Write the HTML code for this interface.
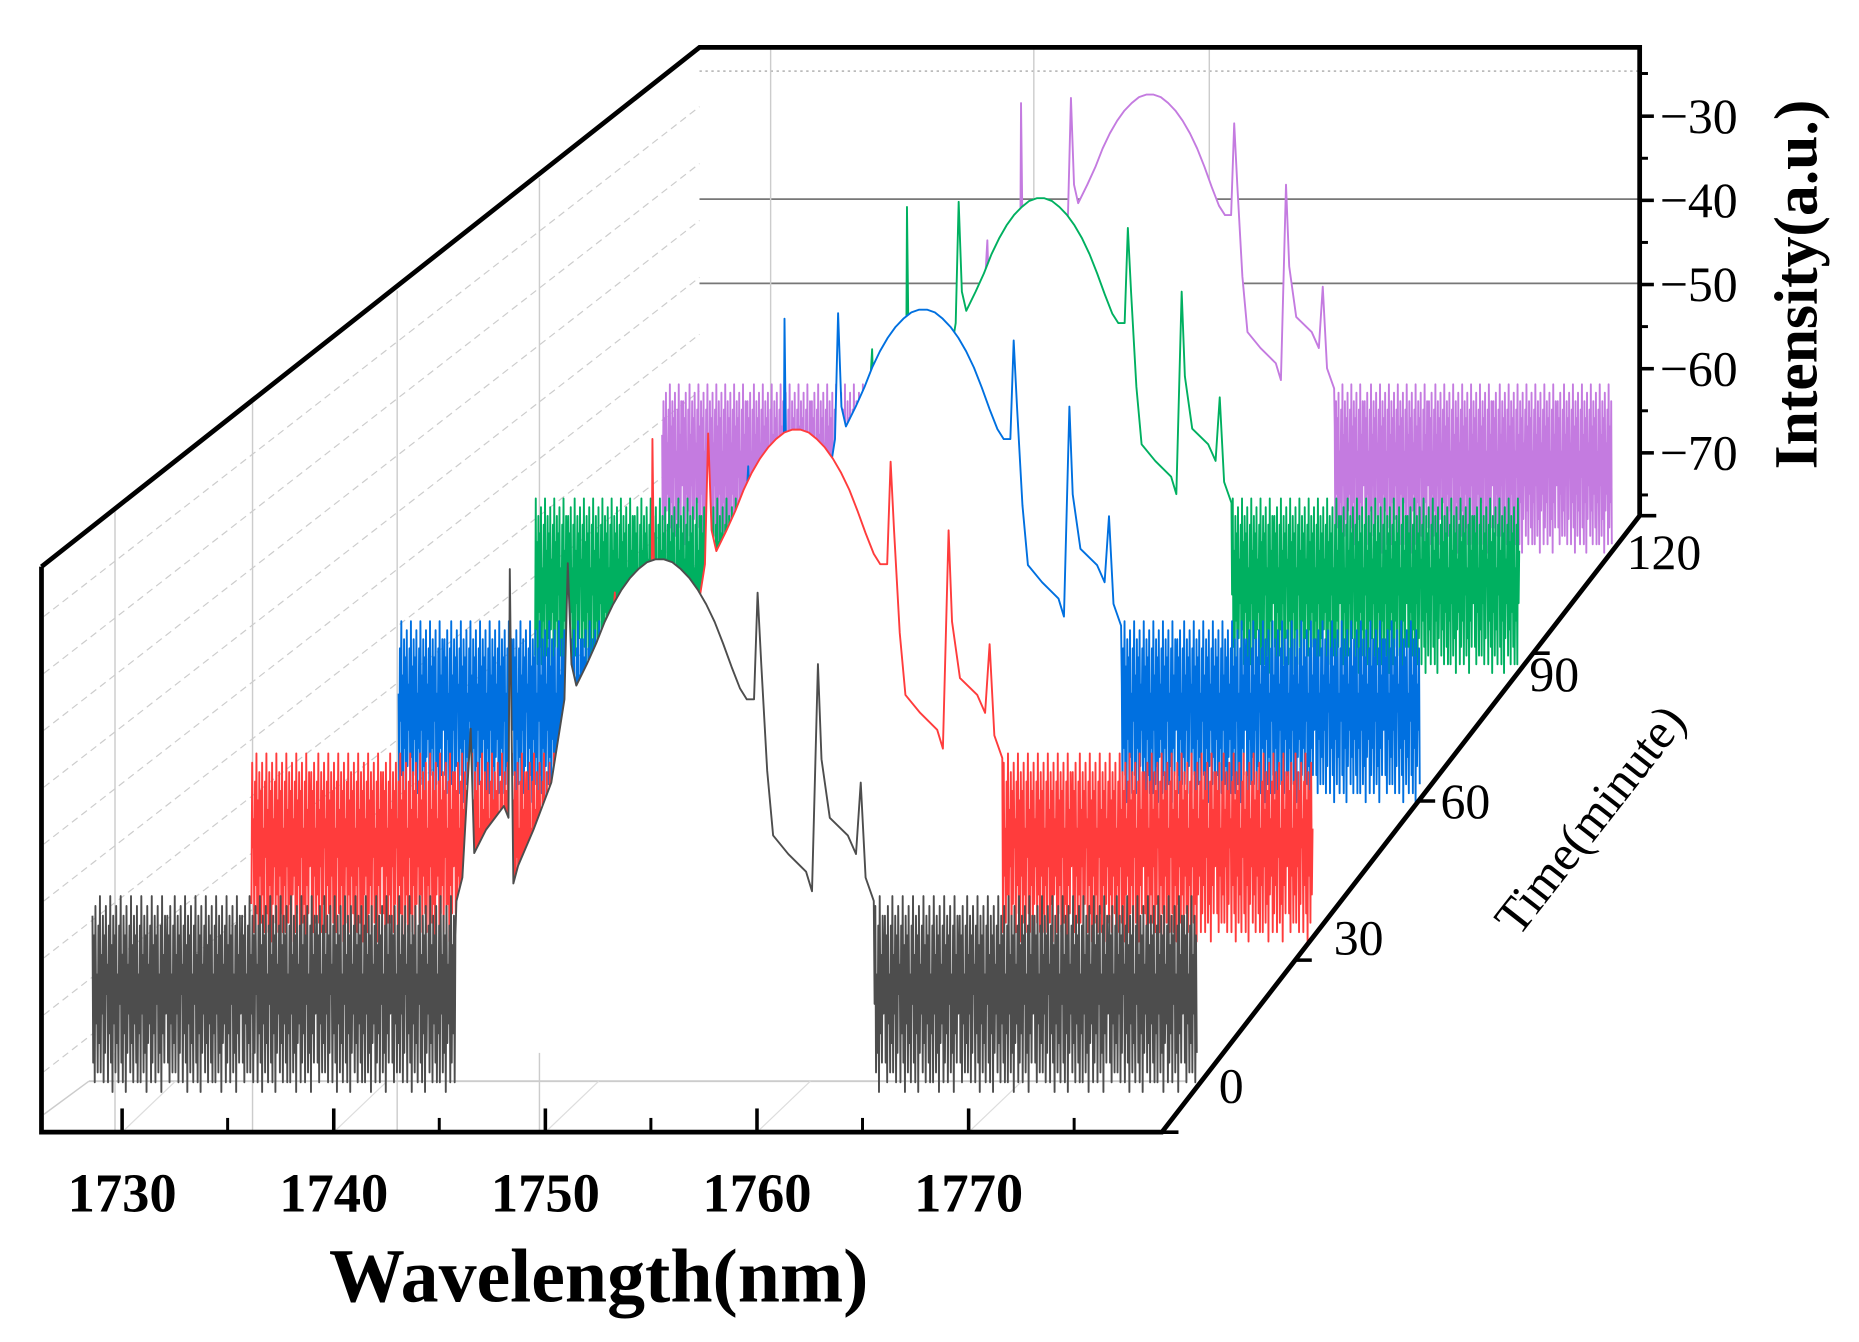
<!DOCTYPE html>
<html><head><meta charset="utf-8"><style>
html,body{margin:0;padding:0;background:#fff;}
svg{display:block;}
text{font-family:"Liberation Serif",serif;}
</style></head><body>
<svg id="chart" width="1859" height="1342" viewBox="0 0 1568 1132" preserveAspectRatio="none" xmlns="http://www.w3.org/2000/svg">
<g id="grid"></g>
<g id="series"></g>
<g id="frame"></g>
<g id="labels"></g>
</svg>
<script>
const times = [0, 30, 60, 90, 120];
const seriesColors = ["#4d4d4d", "#ff3c3c", "#0070e0", "#00b060", "#c47be0"];
const seriesNames = ["spectrum-0min", "spectrum-30min", "spectrum-60min", "spectrum-90min", "spectrum-120min"];
const wlTicks = [1730, 1740, 1750, 1760, 1770];
const intTicks = [-30, -40, -50, -60, -70];
const timeTicks = [0, 30, 60, 90, 120];
const shapeWl = [1745.80,1746.08,1746.47,1746.64,1747.20,1748.04,1748.26,1748.32,1748.49,1748.71,1749.44,1750.28,1750.90,1751.06,1751.23,1751.46,1751.96,1752.4,1752.8,1753.2,1753.6,1754.0,1754.4,1754.8,1755.2,1755.6,1756.0,1756.4,1756.8,1757.2,1757.6,1758.0,1758.4,1758.8,1759.2,1759.52,1759.86,1760.03,1760.20,1760.48,1760.76,1761.48,1762.32,1762.60,1762.88,1763.05,1763.44,1764.29,1764.68,1764.90,1765.13,1765.52];
const shapeInt = [-62.5,-60.1,-44.9,-57.6,-55.2,-52.8,-54.0,-28.6,-60.7,-58.9,-55.2,-50.4,-41.9,-28.0,-38.3,-40.5,-38.3,-36.2,-34.0,-32.2,-30.7,-29.5,-28.6,-27.9,-27.6,-27.6,-27.9,-28.6,-29.5,-30.7,-32.2,-34.0,-36.2,-38.6,-40.8,-41.9,-41.9,-31.0,-38.3,-49.2,-55.8,-57.7,-59.5,-61.5,-38.3,-48.0,-54.0,-55.8,-57.7,-50.4,-60.1,-62.5];
const noise = [-64,-79,-66,-81,-63,-75,-70,-80,-65,-77,-62,-80,-68,-74,-64,-81,-66,-78,-63,-72,-69,-81,-65,-76,-62,-79,-67,-82,-64,-75,-66,-80,-63,-77,-70,-81,-65,-73,-62,-79,-68,-81,-64,-76,-66,-82,-63,-78,-69,-74,-65,-80,-62,-77,-67,-81,-64,-75,-66,-79,-63,-81,-70,-76,-65,-81,-62,-74,-68,-80,-64,-78,-66,-82,-63,-77,-69,-75,-65,-81,-62,-79,-67,-76,-64,-81,-66,-73,-63,-80,-70,-78,-65,-82,-62,-76,-68,-79,-64,-74,-71];
const wlStart = 1728.6, wlEnd = 1780.8;

const NS = "http://www.w3.org/2000/svg";
function mk(tag, attrs, parent){const e=document.createElementNS(NS,tag);for(const k in attrs)e.setAttribute(k,attrs[k]);parent.appendChild(e);return e;}
function depth(t){const f=t/120,a=0.161;return f*(1+a)/(1+a*f);}
function px(wl,t){const u=depth(t),s=1-0.14*u;return 103+477*u+s*17.85*(wl-1730);}
function py(I,t){const u=depth(t),s=1-0.14*u;return 822-441*u-s*8.26*(I+70);}

const grid=document.getElementById('grid');
[60].forEach(y=>{const l=mk('line',{x1:590,y1:y,x2:1383,y2:y,stroke:'#bbb','stroke-width':1.5,'stroke-dasharray':'2,3'},grid);
});
[168,239].forEach(y=>{const l=mk('line',{x1:590,y1:y,x2:1383,y2:y,stroke:'#777','stroke-width':1.5},grid);
});
[650,872,1020].forEach(x=>{const l=mk('line',{x1:x,y1:42,x2:x,y2:435,stroke:'#ccc','stroke-width':1.2},grid);
});
[[97,430],[213,340],[335,245],[455,150]].forEach(p=>{const l=mk('line',{x1:p[0],y1:p[1],x2:p[0],y2:955,stroke:'#ccc','stroke-width':1.2},grid);
});
for(let i=0;i<9;i++){const y0=520+i*48;const l=mk('line',{x1:37,y1:y0,x2:590,y2:y0-430,stroke:'#ccc','stroke-width':1,'stroke-dasharray':'6,4'},grid);
}
{const l=mk('line',{x1:75,y1:912,x2:1000,y2:912,stroke:'#ccc','stroke-width':1.5},grid);
}
{const l=mk('line',{x1:37,y1:940,x2:75,y2:912,stroke:'#ccc','stroke-width':1.2},grid);
}
wlTicks.forEach(w=>{const x=103+17.85*(w-1730);const l=mk('line',{x1:x,y1:955,x2:x+45,y2:912,stroke:'#ddd','stroke-width':1},grid);
});

const sg=document.getElementById('series');
for(let k=times.length-1;k>=0;k--){
  const t=times[k];const pts=[];let ni=k*17;
  for(let w=wlStart;w<shapeWl[0]-0.02;w+=0.035){pts.push([w,noise[ni%noise.length]]);ni++;}
  for(let i=0;i<shapeWl.length;i++)pts.push([shapeWl[i],shapeInt[i]]);
  for(let w=shapeWl[shapeWl.length-1]+0.035;w<=wlEnd;w+=0.035){pts.push([w,noise[ni%noise.length]]);ni++;}
  const d=pts.map((p,i)=>(i?'L':'M')+px(p[0],t).toFixed(1)+','+py(p[1],t).toFixed(1)).join('');
  const fill=mk('path',{d:d+'L'+px(wlEnd,t).toFixed(1)+','+py(-78,t).toFixed(1)+'L'+px(wlStart,t).toFixed(1)+','+py(-78,t).toFixed(1)+'Z',fill:'#fff',stroke:'none'},sg);
  
  
  const line=mk('path',{d:d,fill:'none',stroke:seriesColors[k],'stroke-width':1.6,'stroke-linejoin':'round'},sg);
  
  
}

const fr=document.getElementById('frame');
const frame=mk('path',{d:'M35,478L590,40L1383,40L1383,435M35,478L35,955L980,955L1383,435',fill:'none',stroke:'#000','stroke-width':4,'stroke-linejoin':'miter'},fr);

wlTicks.forEach(w=>{const x=103+17.85*(w-1730);
 const tk=mk('line',{x1:x,y1:955,x2:x,y2:935,stroke:'#000','stroke-width':3},fr);
 
 const m=mk('line',{x1:x+89,y1:955,x2:x+89,y2:943,stroke:'#000','stroke-width':2.5},fr);
 });
intTicks.forEach(v=>{const y=98+(-30-v)*7.1;
 const tk=mk('line',{x1:1383,y1:y,x2:1395,y2:y,stroke:'#000','stroke-width':3},fr);
 
 const m=mk('line',{x1:1383,y1:y+35.5,x2:1390,y2:y+35.5,stroke:'#000','stroke-width':2.5},fr);
 });
{const m=mk('line',{x1:1383,y1:62,x2:1390,y2:62,stroke:'#000','stroke-width':2.5},fr);
 }
timeTicks.forEach(tv=>{const u=depth(tv);const x=980+403*u,y=955-520*u;
 const tk=mk('line',{x1:x,y1:y,x2:x+14,y2:y,stroke:'#000','stroke-width':3},fr);
 });

const lb=document.getElementById('labels');
wlTicks.forEach(w=>{const x=103+17.85*(w-1730);
 const tx=mk('text',{x:x,y:1022,'font-size':46,'text-anchor':'middle','font-weight':'bold'},lb);tx.textContent=w;
 });
intTicks.forEach(v=>{const y=98+(-30-v)*7.1;
 const tx=mk('text',{x:1400,y:y+14,'font-size':42},lb);tx.textContent='\u2212'+Math.abs(v);
 });
const tpos=[[1028,930],[1125,805],[1215,690],[1290,583],[1372,480]];
timeTicks.forEach((tv,i)=>{const tx=mk('text',{x:tpos[i][0],y:tpos[i][1],'font-size':42},lb);tx.textContent=tv;
 });
{const tx=mk('text',{x:505,y:1098,'font-size':64,'font-weight':'bold','text-anchor':'middle'},lb);tx.textContent='Wavelength(nm)';
 }
{const tx=mk('text',{x:0,y:0,'font-size':52,'font-weight':'bold','text-anchor':'middle',transform:'translate(1532,240) rotate(-90)'},lb);tx.textContent='Intensity(a.u.)';
 }
{const tx=mk('text',{x:0,y:0,'font-size':42,'text-anchor':'middle',transform:'translate(1352,700) rotate(-52)'},lb);tx.textContent='Time(minute)';
 }
</script>
</body></html>
